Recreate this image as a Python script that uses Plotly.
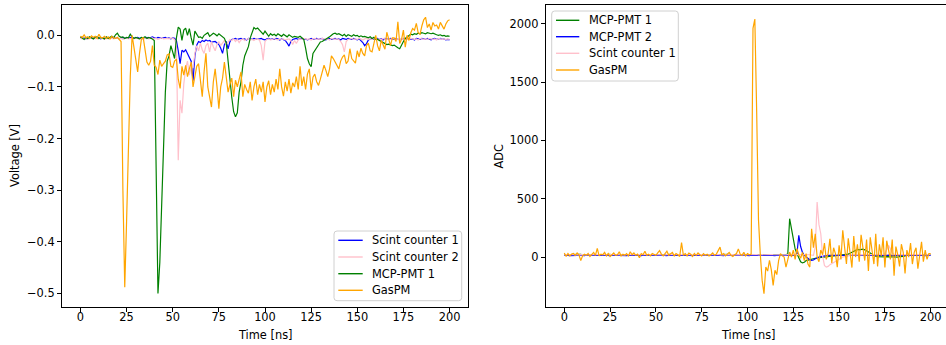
import numpy as np
import plotly.graph_objects as go

# Sampling period of the digitised waveforms
DT_NS = 1.0

# ---------------- Left panel: scope traces, voltage [V] ----------------
volt_scint1 = [
    -0.004, -0.006, -0.005, -0.007, -0.005, -0.004, -0.006, -0.005, -0.006, -0.004,
    -0.005, -0.007, -0.005, -0.006, -0.004, -0.005, -0.006, -0.005, -0.004, -0.006,
    -0.005, -0.007, -0.005, -0.004, -0.006, -0.005, -0.006, -0.004, -0.005, -0.006,
    -0.005, -0.004, -0.006, -0.005, -0.007, -0.005, -0.004, -0.006, -0.005, -0.003,
    -0.005, -0.006, -0.004, -0.005, -0.006, -0.005, -0.004, -0.006, -0.005, -0.007,
    -0.005, -0.006, -0.010,
    -0.030, -0.055, -0.029, -0.032, -0.028, -0.035, -0.040, -0.050, -0.088, -0.040,
    -0.019, -0.012, -0.014, -0.010, -0.012, -0.009, -0.011, -0.010, -0.013, -0.012,
    -0.012, -0.015, -0.018, -0.025, -0.035, -0.018, -0.012, -0.026, -0.012, -0.008,
    -0.007, -0.006, -0.008, -0.007, -0.006, -0.008, -0.007, -0.009, -0.006, -0.007,
    -0.008, -0.006, -0.007, -0.008, -0.007, -0.006, -0.008, -0.009, -0.007, -0.006,
    -0.008, -0.007, -0.008, -0.006, -0.007, -0.009, -0.007, -0.008, -0.010,
    -0.015, -0.021, -0.012, -0.008, -0.007,
    -0.006, -0.008, -0.007, -0.006, -0.008, -0.007, -0.009, -0.007, -0.006, -0.008,
    -0.007, -0.006, -0.008, -0.007, -0.006, -0.008, -0.009, -0.007, -0.006, -0.008,
    -0.007, -0.006, -0.008, -0.007, -0.009, -0.006, -0.007, -0.008, -0.006, -0.007,
    -0.008, -0.006, -0.007, -0.009, -0.007, -0.010,
    -0.014, -0.020, -0.016, -0.009, -0.007,
    -0.006, -0.008, -0.007, -0.006, -0.008, -0.007, -0.009, -0.006, -0.007, -0.008,
    -0.006, -0.007, -0.008, -0.006, -0.007, -0.009, -0.007, -0.006, -0.008, -0.007,
    -0.006, -0.008, -0.007, -0.009, -0.006, -0.007, -0.008, -0.006, -0.007, -0.008,
    -0.006, -0.007, -0.009, -0.007, -0.006, -0.008, -0.007, -0.006, -0.008, -0.007,
    -0.009, -0.008, -0.009,
]

volt_scint2 = [
    -0.006, -0.007, -0.005, -0.006, -0.008, -0.006, -0.005, -0.007, -0.006, -0.006,
    -0.007, -0.005, -0.006, -0.008, -0.006, -0.007, -0.005, -0.006, -0.007, -0.006,
    -0.005, -0.007, -0.006, -0.008, -0.006, -0.005, -0.007, -0.006, -0.006, -0.007,
    -0.005, -0.006, -0.008, -0.006, -0.007, -0.005, -0.006, -0.007, -0.006, -0.005,
    -0.007, -0.006, -0.008, -0.006, -0.005, -0.007, -0.006, -0.006, -0.007, -0.005,
    -0.006, -0.008, -0.020,
    -0.242, -0.126, -0.151, -0.094, -0.064, -0.050, -0.077, -0.060, -0.062, -0.035,
    -0.020, -0.030, -0.015, -0.028, -0.035, -0.020, -0.015, -0.032, -0.012, -0.022,
    -0.030, -0.018, -0.012, -0.020, -0.015, -0.010, -0.018, -0.012,
    -0.008, -0.010, -0.007, -0.012, -0.008, -0.014, -0.009, -0.007, -0.010, -0.008,
    -0.006, -0.009, -0.008, -0.010, -0.007, -0.008, -0.009,
    -0.020, -0.048, -0.012,
    -0.008, -0.007, -0.009, -0.008, -0.006, -0.008, -0.009, -0.007, -0.008, -0.007,
    -0.009, -0.008, -0.007, -0.010,
    -0.018, -0.010, -0.016, -0.009,
    -0.007, -0.008, -0.006, -0.007, -0.008, -0.007, -0.009, -0.007, -0.006, -0.008,
    -0.007, -0.008, -0.006, -0.007, -0.008, -0.007, -0.009, -0.006, -0.007, -0.008,
    -0.007, -0.008, -0.012,
    -0.018, -0.032, -0.012,
    -0.008, -0.007, -0.006, -0.008, -0.007, -0.008, -0.006, -0.007, -0.009, -0.007,
    -0.006, -0.008, -0.007, -0.008, -0.006, -0.007, -0.008, -0.007, -0.009, -0.006,
    -0.007, -0.008, -0.007, -0.008, -0.006, -0.007, -0.008, -0.007, -0.009, -0.006,
    -0.007, -0.008, -0.007, -0.008, -0.006, -0.007, -0.008, -0.007, -0.009, -0.006,
    -0.007, -0.008, -0.007, -0.008, -0.006, -0.007, -0.008, -0.007, -0.009, -0.006,
    -0.007, -0.008, -0.007, -0.008, -0.007, -0.008,
]

volt_mcp1 = [
    -0.003, -0.006, -0.008, -0.004, -0.006, -0.003, -0.005, -0.007, -0.004, -0.003,
    -0.006, -0.004, -0.005, -0.007, -0.003, -0.006, -0.004, -0.002, -0.005, 0.001,
    0.004, -0.002, -0.004, -0.003, -0.006, -0.004, -0.005, 0.002, -0.003, -0.006,
    -0.004, -0.005, -0.007, -0.004, -0.005, -0.003, -0.006, -0.004, -0.005, -0.007,
    -0.010, -0.250, -0.500, -0.440, -0.320, -0.200, -0.110, -0.050, -0.040, -0.020,
    -0.035, -0.045, -0.005, 0.016, 0.012, -0.010, 0.010, 0.014, 0.000, 0.013,
    -0.005, -0.019, 0.008, 0.002, -0.004, -0.003, -0.006, 0.000, 0.002, 0.005,
    -0.002, 0.001, 0.004, 0.002, -0.001, 0.003, 0.000, -0.002, -0.006, -0.015,
    -0.050, -0.095, -0.120, -0.148, -0.158, -0.150, -0.110, -0.090, -0.058, -0.040,
    -0.029, -0.022, -0.005, 0.006, 0.015, 0.012, 0.014, 0.010, 0.005, 0.002,
    0.008, 0.002, -0.002, 0.003, 0.000, 0.002, -0.001, 0.003, 0.001, -0.002,
    0.002, 0.000, -0.003, 0.001, -0.002, -0.004, -0.002, -0.003, -0.004, -0.002,
    -0.005, -0.008, -0.025, -0.045, -0.055, -0.061, -0.035, -0.030, -0.023, -0.018,
    -0.013, -0.012, -0.010, -0.008, -0.005, -0.003, 0.000, 0.003, 0.004, 0.002,
    0.003, 0.001, -0.001, 0.002, -0.002, 0.001, 0.000, -0.002, 0.001, -0.001,
    0.000, -0.003, -0.001, -0.003, -0.002, -0.004, -0.005, -0.003, -0.006, -0.004,
    -0.008, -0.008, -0.010, -0.012, -0.014, -0.016, -0.018, -0.017, -0.018, -0.020,
    -0.019, -0.022, -0.024, -0.026, -0.018, -0.012, -0.006, -0.003, 0.000, 0.002,
    0.001, 0.003, 0.002, 0.004, 0.003, 0.005, 0.004, 0.003, 0.005, 0.004,
    0.003, 0.004, 0.002, 0.001, 0.000, 0.001, -0.001, 0.000, -0.002, -0.001,
    -0.002,
]

volt_gaspm = [
    -0.002, -0.004, 0.001, -0.005, -0.003, -0.006, -0.001, -0.004, -0.002, -0.006,
    0.002, -0.004, -0.005, -0.002, -0.006, -0.003, -0.007, -0.002, -0.005, -0.006,
    -0.004, -0.008, -0.012, -0.300, -0.488, -0.360, -0.220, -0.080, 0.000, -0.025,
    -0.050, -0.071, -0.035, -0.008, -0.004, -0.030, -0.052, -0.058, -0.050, -0.020,
    -0.058, -0.062, -0.076, -0.048, -0.060, -0.055, -0.050, -0.038, -0.036, -0.060,
    -0.062, -0.050, -0.046, -0.085, -0.103, -0.060, -0.077, -0.058, -0.080, -0.065,
    -0.052, -0.100, -0.075, -0.060, -0.055, -0.090, -0.119, -0.070, -0.035, -0.100,
    -0.120, -0.139, -0.090, -0.065, -0.100, -0.142, -0.100, -0.083, -0.052, -0.080,
    -0.110, -0.095, -0.083, -0.119, -0.087, -0.100, -0.085, -0.071, -0.119, -0.095,
    -0.105, -0.112, -0.090, -0.126, -0.100, -0.085, -0.115, -0.095, -0.110, -0.090,
    -0.129, -0.100, -0.088, -0.115, -0.095, -0.110, -0.085, -0.105, -0.065, -0.100,
    -0.118, -0.090, -0.108, -0.085, -0.112, -0.092, -0.100, -0.080, -0.105, -0.060,
    -0.098, -0.080, -0.105, -0.075, -0.065, -0.106, -0.081, -0.075, -0.090, -0.097,
    -0.085, -0.070, -0.058, -0.068, -0.080, -0.065, -0.040, -0.045, -0.052, -0.058,
    -0.065, -0.050, -0.042, -0.038, -0.055, -0.050, -0.026, -0.045, -0.050, -0.054,
    -0.030, -0.042, -0.025, -0.035, -0.040, -0.020, -0.015, -0.030, -0.032, -0.015,
    0.000, -0.020, -0.030, -0.010, -0.020, -0.027, 0.006, -0.010, -0.020, -0.005,
    -0.005, -0.012, 0.026, -0.016, -0.008, 0.010, -0.023, 0.000, -0.010, 0.005,
    0.013, 0.010, 0.023, 0.005, 0.002, 0.018, 0.030, 0.035, 0.015, 0.022,
    0.010, 0.025, 0.018, 0.020, 0.012, 0.025, 0.018, 0.012, 0.022, 0.028,
    0.030,
]

# ---------------- Right panel: digitiser traces, ADC counts ----------------
adc_mcp1 = [
    22, 20, 23, 19, 21, 22, 20, 18, 21, 23,
    20, 22, 19, 21, 20, 23, 21, 19, 22, 20,
    21, 19, 22, 20, 23, 21, 20, 22, 19, 21,
    23, 20, 21, 19, 22, 20, 21, 23, 20, 19,
    21, 22, 20, 19, 23, 21, 20, 22, 21, 19,
    22, 20, 21, 23, 19, 20, 22, 21, 20, 23,
    19, 21, 22, 20, 21, 19, 23, 20, 22, 21,
    20, 22, 19, 21, 23, 20, 21, 19, 22, 20,
    21, 23, 20, 19, 22, 21, 20, 22, 19, 21,
    23, 20, 21, 22, 19, 21, 20, 23, 21, 20,
    22, 19, 21, 20, 23, 21, 22, 20, 19, 21,
    20, 22, 21, 19, 23, 20, 21, 22, 20, 21,
    19, 22, 25, 329, 240, 150, 70, 29, -15, -40,
    -50, -45, -30, -25, -20, -15, -12, -10, -8, -6,
    -5, -3, -2, 0, 2, 4, 6, 8, 10, 12,
    15, 15, 16, 18, 20, 25, 32, 42, 52, 60,
    66, 62, 64, 68, 62, 55, 45, 35, 25, 15,
    8, 4, 2, 0, 0, 2, 3, 2, 0, 5,
    0, 2, 0, 3, 1, 5, 10, 18, 20, 22,
    20, 19, 21, 20, 22, 20, 19, 21, 20, 22,
    20,
]

adc_mcp2 = [
    14, 16, 15, 13, 15, 17, 14, 15, 16, 14,
    15, 13, 16, 15, 14, 16, 15, 13, 15, 16,
    14, 15, 17, 14, 15, 13, 16, 15, 14, 16,
    15, 14, 16, 15, 13, 15, 17, 14, 15, 16,
    14, 15, 13, 16, 15, 14, 16, 15, 14, 15,
    17, 14, 15, 16, 14, 15, 13, 16, 15, 14,
    16, 15, 14, 15, 17, 14, 15, 16, 14, 15,
    13, 16, 15, 14, 16, 15, 13, 15, 16, 14,
    15, 17, 14, 15, 16, 14, 15, 13, 16, 15,
    14, 16, 15, 14, 15, 17, 14, 15, 16, 14,
    15, 13, 16, 15, 14, 16, 15, 14, 15, 17,
    14, 15, 16, 14, 15, 13, 16, 15, 14, 16,
    15, 14, 16, 15, 14, 16, 15,
    30, 186, 90, 40, 14, 0, -15, -23, -28, -25,
    -15, -6, 0, 4, 8, 10, 12, 14, 15,
    16, 14, 15, 17,
    15, 14, 16, 15, 13, 16, 15, 14, 16, 15,
    17, 14, 15, 16, 14, 15, 13, 16, 15, 14,
    16, 15, 14, 15, 17, 14, 15, 16, 14, 15,
    13, 16, 15, 14, 16, 15, 13, 15, 16, 14,
    15, 17, 14, 15, 16, 14, 15, 13, 16, 15, 14,
]

adc_scint1 = [
    20, 21, 19, 20, 22, 20, 19, 21, 20, 20,
    21, 19, 20, 22, 20, 21, 19, 20, 21, 20,
    19, 20, 21, 20, 22, 19, 20, 21, 20, 19,
    21, 20, 20, 19, 21, 22, 20, 19, 20, 21,
    20, 19, 21, 20, 20, 22, 19, 20, 21, 20,
    19, 21, 20, 22, 20, 19, 21, 20, 20, 21,
    20, 19, 21, 20, 22, 20, 19, 21, 20, 20,
    21, 19, 20, 22, 20, 21, 19, 20, 21, 20,
    19, 20, 21, 20, 22, 19, 20, 21, 20, 19,
    21, 20, 20, 19, 21, 22, 20, 19, 20, 21,
    20, 19, 21, 20, 20, 22, 19, 20, 21, 20,
    19, 21, 20, 22, 20, 19, 21, 20, 20, 21,
    20, 19, 21, 20, 22, 20, 19, 21, 20, 20,
    21, 19, 20, 22, 20, 18,
    14, 86, 471, 280, 200, 10, -71, -86, -80, -65,
    -57, -45, -40, -30, -20, -10, 0, 5, 10, 14,
    16, 18, 20, 20, 20,
    21, 19, 20, 22, 20, 19, 21, 20, 22,
    20, 21, 19, 22, 25, 30, 60, 100, 70, 35,
    22, 20, 19, 21, 20, 22, 20, 19, 21, 20,
    20, 21, 19, 20, 22, 20, 19, 21, 20, 20, 21,
]

adc_gaspm = [
    35, 5, 30, 10, 25, 30, 15, 35, 20, -30,
    10, 25, 15, 30, 5, 20, 40, 15, 75, 10,
    25, 20, 40, 10, 30, 5, 25, 35, 15, 20,
    45, 10, 25, 15, 30, 10, 45, 20, 35, 15,
    25, -5, 30, 20, 50, 15, 25, 10, 30, 20,
    15, 35, 55, 25, 10, 30, 50, 15, 25, 40,
    10, 30, 20, 5, 125, 15, 30, 10, 35, 25,
    5, 30, 15, 35, 20, 10, 30, 15, 25, 10,
    20, 35, 15, 25, 55, 85, 20, 30, 10, 25,
    40, 15, 5, 20, 30, 70, 25, 15, 40, 10,
    30, 20, 25, 1960, 2040, 1250, 320, 20, -200, -314,
    -86, -120, -28, -110, -243, -114, -150, -28, 29, 10,
    0, -86, -20, 43, 0, 60, -20, 72, 20, -10,
    40, -30, 30, -60, -86, 243, 80, 200, 0, -40,
    60, 20, 120, -20, 30, 157, -50, 80, 30, -86,
    100, -20, 230, 50, -60, 160, 20, -90, 180, 0,
    110, -40, 190, 70, -30, 150, -120, 170, 30, -60,
    200, -80, 110, 10, 170, -90, 140, 50, -20, 150,
    -160, 90, 20, -80, 110, 40, -140, 60, 0, 120,
    -60, 40, 80, -100, 20, 130, -40, 60, -20, 30,
    30,
]

time_ticks = [0, 25, 50, 75, 100, 125, 150, 175, 200]
volt_ticks = [-0.5, -0.4, -0.3, -0.2, -0.1, 0.0]
adc_ticks = [0, 500, 1000, 1500, 2000]

left_series = [
    ("Scint counter 1", volt_scint1, "blue"),
    ("Scint counter 2", volt_scint2, "pink"),
    ("MCP-PMT 1", volt_mcp1, "green"),
    ("GasPM", volt_gaspm, "orange"),
]
right_series = [
    ("MCP-PMT 1", adc_mcp1, "green"),
    ("MCP-PMT 2", adc_mcp2, "blue"),
    ("Scint counter 1", adc_scint1, "pink"),
    ("GasPM", adc_gaspm, "orange"),
]

# ---------------- Figure geometry ----------------
W, H = 946, 345
MT, MB = 5, 38
PLOT_H = H - MT - MB
FONT = "DejaVu Sans"
FS = 11.4


def fx(px):
    return px / W


def fy(py):
    return (H - MB - py) / PLOT_H


fig = go.Figure()

for name, vals, color in left_series:
    t = np.arange(len(vals)) * DT_NS
    fig.add_trace(go.Scatter(x=t, y=vals, mode="lines", name=name,
                             line=dict(color=color, width=1.2),
                             xaxis="x", yaxis="y", showlegend=False,
                             hoverinfo="skip"))

for name, vals, color in right_series:
    t = np.arange(len(vals)) * DT_NS
    fig.add_trace(go.Scatter(x=t, y=vals, mode="lines", name=name,
                             line=dict(color=color, width=1.2),
                             xaxis="x2", yaxis="y2", showlegend=False,
                             hoverinfo="skip"))

axis_style = dict(
    showgrid=False, zeroline=False, showline=True, linecolor="black",
    linewidth=1, ticks="outside", ticklen=4, tickwidth=1, tickcolor="black",
    tickfont=dict(family=FONT, size=FS, color="black"), automargin=False,
)

fig.update_layout(
    template="none",
    width=W, height=H,
    margin=dict(l=0, r=0, t=MT, b=MB, pad=0),
    paper_bgcolor="white", plot_bgcolor="white",
    font=dict(family=FONT, size=FS, color="black"),
    showlegend=False,
    xaxis=dict(domain=[fx(62), fx(468)], range=[-10, 210], tickvals=time_ticks,
               anchor="y", mirror=True, ticklabelstandoff=-5, **axis_style),
    yaxis=dict(domain=[0, 1], range=[-0.5263, 0.0587], tickvals=volt_ticks,
               tickformat=".1f", anchor="x", mirror=True, **axis_style),
    xaxis2=dict(domain=[fx(545.7), 1.0], range=[-10.15, 208.35], tickvals=time_ticks,
                anchor="y2", mirror=True, ticklabelstandoff=-5, **axis_style),
    yaxis2=dict(domain=[0, 1], range=[-428, 2160], tickvals=adc_ticks,
                anchor="x2", mirror=False, **axis_style),
)

# Axis titles
titles = [
    ("Time [ns]", 265, 334.5, 0),
    ("Voltage [V]", 15, 156, -90),
    ("Time [ns]", 748.5, 334.5, 0),
    ("ADC", 498.5, 156, -90),
]
for text, px, py, ang in titles:
    fig.add_annotation(text=text, x=fx(px), y=fy(py), xref="paper", yref="paper",
                       showarrow=False, textangle=ang, xanchor="center",
                       yanchor="middle", font=dict(family=FONT, size=FS, color="black"))


def rounded_box(x0, y0, x1, y1, r=3):
    pts = [
        f"M {fx(x0 + r)} {fy(y0)}",
        f"L {fx(x1 - r)} {fy(y0)}",
        f"Q {fx(x1)} {fy(y0)} {fx(x1)} {fy(y0 + r)}",
        f"L {fx(x1)} {fy(y1 - r)}",
        f"Q {fx(x1)} {fy(y1)} {fx(x1 - r)} {fy(y1)}",
        f"L {fx(x0 + r)} {fy(y1)}",
        f"Q {fx(x0)} {fy(y1)} {fx(x0)} {fy(y1 - r)}",
        f"L {fx(x0)} {fy(y0 + r)}",
        f"Q {fx(x0)} {fy(y0)} {fx(x0 + r)} {fy(y0)}",
        "Z",
    ]
    return " ".join(pts)


def draw_legend(series, box, line_x, text_x, rows_y):
    x0, y0, x1, y1 = box
    fig.add_shape(type="path", path=rounded_box(x0, y0, x1, y1),
                  xref="paper", yref="paper", line=dict(color="#d0d0d0", width=1),
                  fillcolor="rgba(255,255,255,0.8)", layer="above")
    for (name, _, color), ry in zip(series, rows_y):
        fig.add_shape(type="line", x0=fx(line_x[0]), x1=fx(line_x[1]),
                      y0=fy(ry), y1=fy(ry), xref="paper", yref="paper",
                      line=dict(color=color, width=1.4), layer="above")
        fig.add_annotation(text=name, x=fx(text_x), y=fy(ry), xref="paper",
                           yref="paper", showarrow=False, xanchor="left",
                           yanchor="middle", borderpad=0,
                           font=dict(family=FONT, size=FS, color="black"))


draw_legend(left_series, (334, 231, 461.7, 300.7), (338.3, 362.7), 370.5,
            [240.3, 257.0, 273.7, 290.3])
draw_legend(right_series, (551.7, 11, 678.3, 81), (556, 579.3), 588,
            [20.3, 36.7, 53.3, 70.0])

fig.write_html("out.html")
